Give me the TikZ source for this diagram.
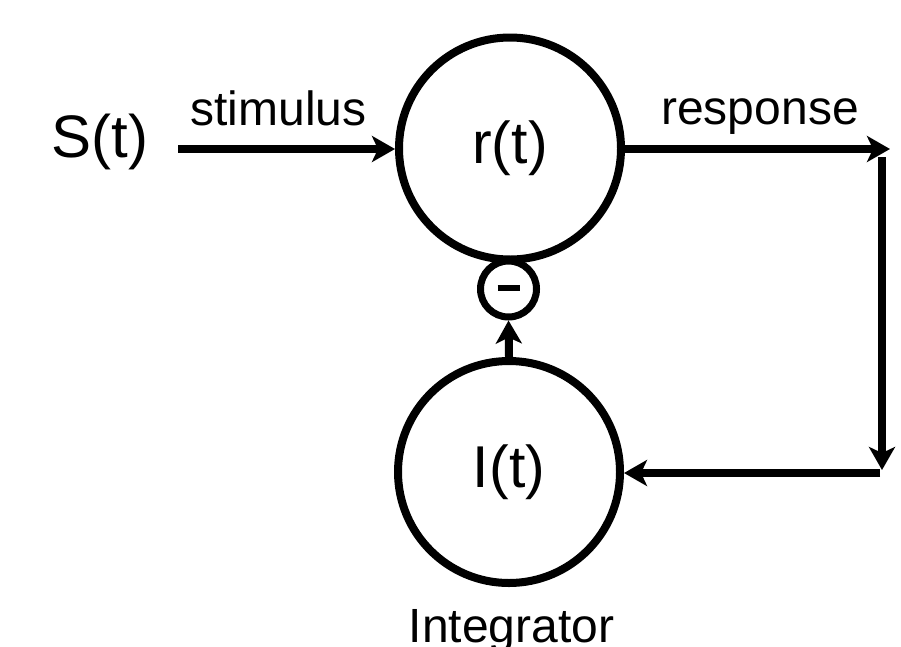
\documentclass[tikz,border=0pt]{standalone}
\usepackage{fontspec}
\setmainfont{Liberation Sans}
\usetikzlibrary{arrows.meta}

\tikzset{
  unit/.style={circle, draw, line width=8pt, minimum size=222pt, inner sep=0pt,
               font=\fontsize{59}{60}\selectfont},
  sign/.style={circle, draw, line width=7pt, minimum size=56pt, inner sep=0pt},
  flow/.style={line width=8pt, -{Stealth[length=23pt,width=26pt,inset=6pt]}},
  biglabel/.style={font=\fontsize{60}{62}\selectfont, anchor=base},
  smalllabel/.style={font=\fontsize{48}{50}\selectfont, anchor=base}
}

\begin{document}
\begin{tikzpicture}[x=1pt, y=-1pt]
  \useasboundingbox (0,0) rectangle (901,646);

  % the two units
  \node[unit] (r) at (510,148.5) {r(t)};
  \node[unit] (i) at (509,472) {I(t)};
  % inhibitory junction between them
  \node[sign] (neg) at (508.5,289) {};
  \draw[line width=6pt] (497.5,288) -- (519.5,288);

  % labels
  \node[biglabel] (s) at (100,157) {S(t)};
  \node[smalllabel] (stim) at (278.5,125) {stimulus};
  \node[smalllabel] (resp) at (760,124) {response};
  \node[smalllabel] (integ) at (511.5,642) {Integrator};

  % feedback loop corners
  \coordinate (stimstart) at (178,149);
  \coordinate (outtip) at (890,149);
  \coordinate (downstart) at (882,157);
  \coordinate (downend) at (882,470);
  \coordinate (backstart) at (880,473);

  % connectors
  \draw[flow] (stimstart) -- (r.west |- stimstart);
  \draw[flow] (r.east |- outtip) -- (outtip);
  \draw[flow] (downstart) -- (downend);
  \draw[flow] (backstart) -- (i.east |- backstart);
  \draw[flow] (i.north) -- (neg.south);
\end{tikzpicture}
\end{document}
